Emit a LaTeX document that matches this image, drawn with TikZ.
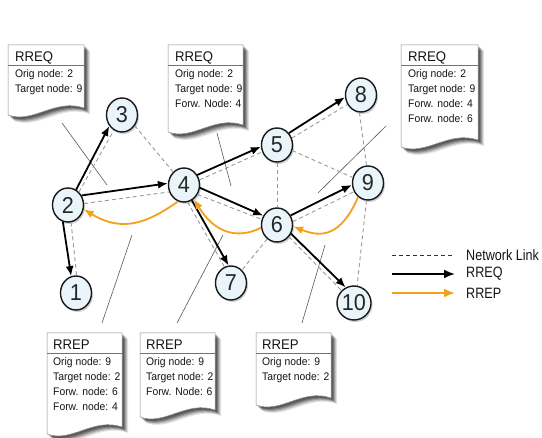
\documentclass[tikz,border=0pt]{standalone}
\usepackage{fontspec}
\setmainfont{Liberation Sans}[FakeStretch=0.94]
\newfontfamily\legfont{Liberation Sans}[FakeStretch=0.84]
\usetikzlibrary{shapes.geometric,arrows.meta,shadows,calc}
\definecolor{nodefill}{HTML}{E9F5FB}
\definecolor{rrepc}{HTML}{F5A01A}
\definecolor{linkc}{HTML}{9A9A9A}
\definecolor{textc}{HTML}{151515}
\newcommand\docpath[4]{(#1,#2) -- (#3,#2) -- (#3,#4-7) .. controls (#1+0.62*#3-0.62*#1,#4-17) and (#1+0.33*#3-0.33*#1,#4+9) .. (#1,#4) -- cycle}
\newcommand\mydoc[5]{%
  \foreach \s/\o in {6/0.10,5/0.14,4/0.18,3/0.22,2/0.26}{\fill[black,opacity=\o,shift={(\s pt,-\s pt)}] \docpath{#1}{#2}{#3}{#4};}
  \filldraw[fill=white,draw=black!45,line width=0.5pt] \docpath{#1}{#2}{#3}{#4};
  \draw[black!55,line width=0.6pt] (#1,#2+20) -- (#3,#2+20);
  \node[doctitle] (#5) at (#1+7,#2+17) {};
}
\tikzset{
  net/.style={ellipse,draw=black!90,line width=1.4pt,fill=nodefill,minimum width=31pt,minimum height=34pt,inner sep=0pt,
    font=\fontsize{23}{23}\selectfont,text=black!85,drop shadow={shadow xshift=1.5pt,shadow yshift=-2pt,opacity=0.35}},
  link/.style={draw=linkc,dash pattern=on 4pt off 3pt,line width=0.9pt},
  rreq/.style={draw=black,line width=1.8pt,-{Latex[length=10pt,width=8pt]}},
  rrep/.style={draw=rrepc,line width=1.8pt,-{Latex[length=10pt,width=8pt]}},
  callout/.style={draw=black!65,line width=0.6pt},
  doctitle/.style={anchor=base west,inner sep=0pt,font=\fontsize{14}{16}\selectfont,text=textc},
  docline/.style={anchor=base west,inner sep=0pt,font=\fontsize{11}{15}\selectfont,text=textc},
  legtext/.style={anchor=west,inner sep=0pt,font=\legfont\fontsize{15}{17}\selectfont,text=textc},
}
\begin{document}
\begin{tikzpicture}[x=1pt,y=-1pt]
\useasboundingbox (0,0) rectangle (542,438);
\fill[white] (0,0) rectangle (542,438);

% documents
\mydoc{8}{45}{84}{115}{d1}
\node[doctitle] (d1t) at (15,62) {RREQ};
\node[docline] (d1a) at (15,78) {Orig node: 2};
\node[docline] (d1b) at (15,93) {Target node: 9};

\mydoc{168}{45}{243}{132}{d2}
\node[doctitle] (d2t) at (175,62) {RREQ};
\node[docline] (d2a) at (175,78) {Orig node: 2};
\node[docline] (d2b) at (175,93) {Target node: 9};
\node[docline] (d2c) at (175,108) {Forw. Node: 4};

\mydoc{401}{45}{478}{147}{d3}
\node[doctitle] (d3t) at (408,62) {RREQ};
\node[docline] (d3a) at (408,78) {Orig node: 2};
\node[docline] (d3b) at (408,93) {Target node: 9};
\node[docline] (d3c) at (408,108) {Forw. node: 4};
\node[docline] (d3d) at (408,123) {Forw. node: 6};

\mydoc{47}{333}{122}{434}{d4}
\node[doctitle] (d4t) at (53,350) {RREP};
\node[docline] (d4a) at (53,366) {Orig node: 9};
\node[docline] (d4b) at (53,381) {Target node: 2};
\node[docline] (d4c) at (53,396) {Forw. node: 6};
\node[docline] (d4d) at (53,411) {Forw. node: 4};

\mydoc{140}{333}{215}{417}{d5}
\node[doctitle] (d5t) at (146,350) {RREP};
\node[docline] (d5a) at (146,366) {Orig node: 9};
\node[docline] (d5b) at (146,381) {Target node: 2};
\node[docline] (d5c) at (146,396) {Forw. Node: 6};

\mydoc{256}{333}{331}{405}{d6}
\node[doctitle] (d6t) at (262,350) {RREP};
\node[docline] (d6a) at (262,366) {Orig node: 9};
\node[docline] (d6b) at (262,381) {Target node: 2};

% callout lines
\coordinate (c1a) at (62,123); \coordinate (c1b) at (107,185);
\coordinate (c2a) at (217,133); \coordinate (c2b) at (231,186);
\coordinate (c3a) at (386,126); \coordinate (c3b) at (318,193);
\coordinate (c4a) at (102,323); \coordinate (c4b) at (132,235);
\coordinate (c5a) at (177,323); \coordinate (c5b) at (223,235);
\coordinate (c6a) at (302,323); \coordinate (c6b) at (325,245);
\draw[callout] (c1a) -- (c1b);
\draw[callout] (c2a) -- (c2b);
\draw[callout] (c3a) -- (c3b);
\draw[callout] (c4a) -- (c4b);
\draw[callout] (c5a) -- (c5b);
\draw[callout] (c6a) -- (c6b);

% network nodes
\node[net] (n1) at (76,293) {1};
\node[net] (n2) at (68,205) {2};
\node[net] (n3) at (122,115) {3};
\node[net] (n4) at (184,185) {4};
\node[net] (n5) at (277,145) {5};
\node[net] (n6) at (277,225) {6};
\node[net] (n7) at (231,283) {7};
\node[net] (n8) at (361,95) {8};
\node[net] (n9) at (368,183) {9};
\node[net] (n10) at (354,303) {10};

% network links
\draw[link] (n2.50) -- (n3.242);
\draw[link] (n2.5) -- (n4.205);
\draw[link] (n2.-80) -- (n1.88);
\draw[link] (n3.-40) -- (n4.130);
\draw[link] (n4.18) -- (n5.205);
\draw[link] (n4.-35) -- (n6.160);
\draw[link] (n4.-78) -- (n7.112);
\draw[link] (n5.25) -- (n8.215);
\draw[link] (n5.270) -- (n6.90);
\draw[link] (n5.-20) -- (n9.160);
\draw[link] (n6.12) -- (n9.212);
\draw[link] (n6.235) -- (n7.50);
\draw[link] (n6.-45) -- (n10.135);
\draw[link] (n8.265) -- (n9.95);
\draw[link] (n9.265) -- (n10.80);

% RREQ
\draw[rreq] (n2.62) -- (n3.221);
\draw[rreq] (n2.35) -- (n4.174);
\draw[rreq] (n2.253) -- (n1.106);
\draw[rreq] (n4.37) -- (n5.186);
\draw[rreq] (n4.-10) -- (n6.146);
\draw[rreq] (n4.-63) -- (n7.98);
\draw[rreq] (n5.45) -- (n8.188);
\draw[rreq] (n6.35) -- (n9.187);
\draw[rreq] (n6.-32) -- (n10.118);

% RREP
\draw[rrep] (n9.235) .. controls (341,236) and (322,238) .. (n6.-5);
\draw[rrep] (n6.190) .. controls (236,240) and (214,232) .. (n4.-55);
\draw[rrep] (n4.250) .. controls (150,221) and (124,234) .. (n2.-15);

% legend
\coordinate (l1a) at (392,255); \coordinate (l1b) at (453,255);
\coordinate (l2a) at (392,274); \coordinate (l2b) at (455,274);
\coordinate (l3a) at (392,293); \coordinate (l3b) at (455,293);
\draw[draw=black!80,dash pattern=on 4pt off 3pt,line width=0.8pt] (l1a) -- (l1b);
\draw[rreq,-{Latex[length=11pt,width=9pt]}] (l2a) -- (l2b);
\draw[rrep,-{Latex[length=11pt,width=9pt]}] (l3a) -- (l3b);
\node[legtext] (lt1) at (466,255) {Network Link};
\node[legtext] (lt2) at (466,274) {RREQ};
\node[legtext] (lt3) at (466,293) {RREP};
\end{tikzpicture}
\end{document}
